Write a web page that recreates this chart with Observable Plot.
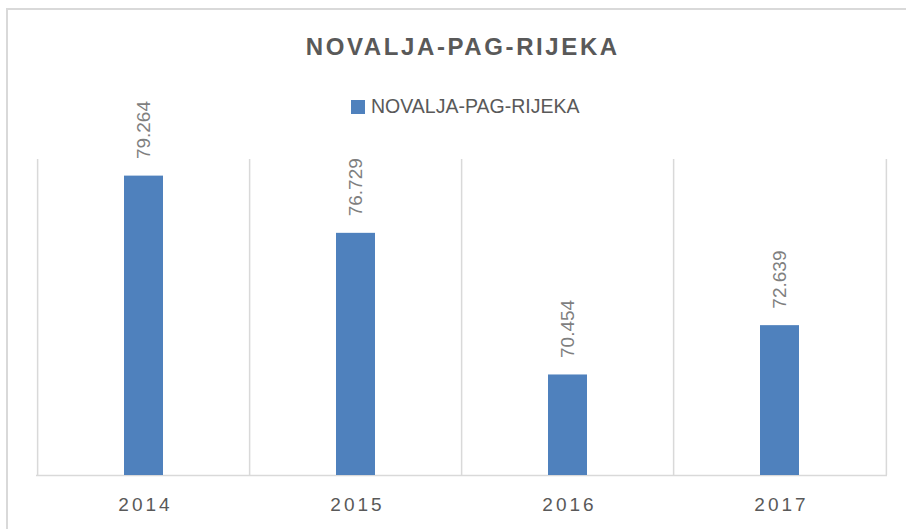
<!DOCTYPE html>
<html><head><meta charset="utf-8">
<script src="https://cdn.jsdelivr.net/npm/d3@7"></script>
<script src="https://cdn.jsdelivr.net/npm/@observablehq/plot@0.6"></script>
<style>
body{margin:0;background:#fff;}
#wrap{position:relative;width:906px;height:529px;overflow:hidden;font-family:"Liberation Sans",Arial,sans-serif;}
#border{position:absolute;left:6px;top:8px;width:1000px;height:1000px;border-left:2px solid #d9d9d9;border-top:2px solid #d9d9d9;}
#title{position:absolute;left:36px;width:851px;top:35px;text-align:center;font-weight:bold;font-size:24px;line-height:24px;letter-spacing:2.6px;padding-left:2.6px;box-sizing:border-box;color:#595959;white-space:nowrap;}
#legend{position:absolute;left:351px;top:97px;height:20px;display:flex;align-items:flex-start;white-space:nowrap;}
#legend .sw{width:14px;height:14px;background:#4f81bd;margin-top:3px;margin-right:6px;}
#legend .lb{font-size:19.5px;line-height:19.5px;color:#595959;}
#chart{position:absolute;left:0;top:0;}
</style></head><body>
<div id="wrap"><div id="border"></div><div id="chart"></div><div id="title"></div><div id="legend"><div class="sw"></div><div class="lb"></div></div></div>
<script>
const chartTitle = "NOVALJA-PAG-RIJEKA";
const seriesName = "NOVALJA-PAG-RIJEKA";
const years = ["2014", "2015", "2016", "2017"];
const values = [79264, 76729, 70454, 72639];
const yDomain = [66000, 80000];

const data = years.map((y, i) => ({year: y, value: values[i]}));
const locale = d3.formatLocale({decimal: ",", thousands: ".", grouping: [3], currency: ["", ""]});
const fmt = locale.format(",d");

document.getElementById("title").textContent = chartTitle;
document.querySelector("#legend .lb").textContent = seriesName;

const W = 906, H = 529, mL = 36, mR = 19, mT = 159, mB = 54;
const step = (W - mL - mR) / years.length;

const chart = Plot.plot({
  width: W, height: H,
  marginTop: mT, marginBottom: mB, marginLeft: mL, marginRight: mR,
  style: {fontFamily: "'Liberation Sans', Arial, sans-serif", background: "transparent"},
  x: {domain: years, paddingInner: 0.817, paddingOuter: 0.4085, label: null},
  y: {domain: yDomain, axis: null},
  marks: [
    Plot.ruleX(years, {x: d => d, dx: -step / 2, stroke: "#d9d9d9", strokeWidth: 1.5, strokeOpacity: 1}),
    Plot.ruleX([years[years.length - 1]], {x: d => d, dx: step / 2, stroke: "#d9d9d9", strokeWidth: 1.5, strokeOpacity: 1}),
    Plot.ruleY([yDomain[0]], {stroke: "#d9d9d9", strokeWidth: 1.5, strokeOpacity: 1}),
    Plot.barY(data, {x: "year", y1: yDomain[0], y2: "value", fill: "#4f81bd"}),
    Plot.text(data, {x: "year", y: "value", text: d => fmt(d.value), rotate: -90, textAnchor: "start", lineAnchor: "middle", dy: -17, fontSize: 19, fill: "#7f7f7f"}),
    Plot.axisX({tickSize: 0, tickPadding: 22, fontSize: 19, fill: "#595959", label: null})
  ]
});
document.getElementById("chart").appendChild(chart);
d3.select(chart).selectAll('g[aria-label="x-axis tick label"] text').attr("letter-spacing", "3px").attr("dx", "1.5px");
</script>
</body></html>
